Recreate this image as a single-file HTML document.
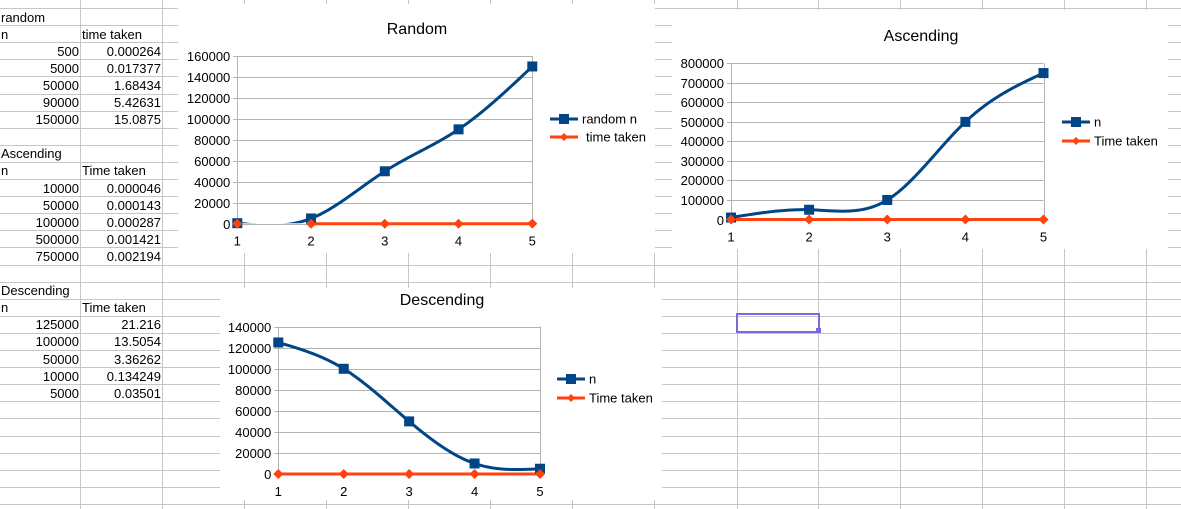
<!DOCTYPE html>
<html><head><meta charset="utf-8">
<style>
html,body{margin:0;padding:0;background:#fff;}
body{width:1181px;height:509px;position:relative;overflow:hidden;font-family:"Liberation Sans",Arial,sans-serif;}
#grid{position:absolute;left:0;top:0;}
.cell{position:absolute;font-size:13px;line-height:17px;height:17px;color:#000;white-space:nowrap;}
.r{text-align:right;}
svg text{font-family:"Liberation Sans",Arial,sans-serif;white-space:pre;}
</style></head>
<body>
<svg id="grid" width="1181" height="509"></svg>
<div id="cells"></div>
<svg id="charts" width="1181" height="509" style="position:absolute;left:0;top:0"></svg>
<div style="position:absolute;left:736px;top:313px;width:80px;height:16px;border:2px solid #7b68dd;box-sizing:content-box;"></div>
<div style="position:absolute;left:816px;top:328px;width:5px;height:5px;background:#7b68dd;"></div>
<script>
// ---- data ----
const xCats = [1,2,3,4,5];
const randomN = [500,5000,50000,90000,150000];
const randomT = [0.000264,0.017377,1.68434,5.42631,15.0875];
const ascN = [10000,50000,100000,500000,750000];
const ascT = [0.000046,0.000143,0.000287,0.001421,0.002194];
const descN = [125000,100000,50000,10000,5000];
const descT = [21.216,13.5054,3.36262,0.134249,0.03501];
const randomTicks = [0,20000,40000,60000,80000,100000,120000,140000,160000];
const ascTicks = [0,100000,200000,300000,400000,500000,600000,700000,800000];
const descTicks = [0,20000,40000,60000,80000,100000,120000,140000];

const NS='http://www.w3.org/2000/svg';
function mk(parent,tag,attrs){const e=document.createElementNS(NS,tag);for(const k in attrs)e.setAttribute(k,attrs[k]);parent.appendChild(e);return e;}

// ---- spreadsheet grid ----
const g=document.getElementById('grid');
const colX=[80,162,244,326,408,490,572,654,737,818,900,982,1064,1146];
const rowY=[];for(let k=0;k<30;k++)rowY.push(8+k*17.1);
rowY.forEach(y=>mk(g,'line',{x1:0,x2:1181,y1:Math.round(y)+0.5,y2:Math.round(y)+0.5,stroke:'#c6c6c6','stroke-width':1}));
colX.forEach(x=>mk(g,'line',{x1:x+0.5,x2:x+0.5,y1:0,y2:509,stroke:'#c6c6c6','stroke-width':1}));

// ---- cells ----
const cells=document.getElementById('cells');
function cell(row,col,text,right,name){
  const d=document.createElement('div');d.className='cell'+(right?' r':'');
  const top=8+row*17.1;
  d.style.top=(top+0.5)+'px';
  if(col===0){ if(right){d.style.left='0px';d.style.width='79px';} else d.style.left='1px'; }
  else { if(right){d.style.left='82px';d.style.width='79px';} else d.style.left='82px'; }
  d.textContent=text;
  
  
  cells.appendChild(d);
}
function table(startRow,title,hdr,ns,ts,pref){
  cell(startRow,0,title,false,pref+'-title-cell');
  cell(startRow+1,0,'n',false,pref+'-n-header');
  cell(startRow+1,1,hdr,false,pref+'-time-header');
  for(let i=0;i<ns.length;i++){
    cell(startRow+2+i,0,String(ns[i]),true,pref+'-n-'+(i+1));
    cell(startRow+2+i,1,String(ts[i]),true,pref+'-time-'+(i+1));
  }
}
table(0,'random','time taken',randomN,randomT,'random');
table(8,'Ascending','Time taken',ascN,ascT,'ascending');
table(16,'Descending','Time taken',descN,descT,'descending');

// ---- charts ----
const C=document.getElementById('charts');
const BLUE='#004586',ORANGE='#ff420e';
function spline(xs,ys){
  const n=xs.length,h=[],al=[],l=[1],mu=[0],z=[0],c=new Array(n).fill(0),b=[],d=[];
  for(let i=0;i<n-1;i++)h.push(xs[i+1]-xs[i]);
  for(let i=1;i<n-1;i++)al[i]=3/h[i]*(ys[i+1]-ys[i])-3/h[i-1]*(ys[i]-ys[i-1]);
  for(let i=1;i<n-1;i++){l[i]=2*(xs[i+1]-xs[i-1])-h[i-1]*mu[i-1];mu[i]=h[i]/l[i];z[i]=(al[i]-h[i-1]*z[i-1])/l[i];}
  for(let j=n-2;j>=0;j--){c[j]=z[j]-mu[j]*c[j+1];b[j]=(ys[j+1]-ys[j])/h[j]-h[j]*(c[j+1]+2*c[j])/3;d[j]=(c[j+1]-c[j])/(3*h[j]);}
  return t=>{let j=Math.min(Math.floor(t-xs[0]),n-2);if(j<0)j=0;const dx=t-xs[j];return ys[j]+b[j]*dx+c[j]*dx*dx+d[j]*dx*dx*dx;};
}
let clipId=0;
function chart(o){
  const grp=mk(C,'g',{});
  
  
  mk(grp,'rect',{x:o.box[0],y:o.box[1],width:o.box[2]-o.box[0],height:o.box[3]-o.box[1],fill:'#fff'});
  const L=o.plot[0],R=o.plot[1],T=o.plot[2],B=o.plot[3];
  const maxV=o.ticks[o.ticks.length-1];
  const xs=i=>L+(R-L)*(i-1)/(xCats.length-1);
  const ys=v=>B-(B-T)*v/maxV;
  const t=mk(grp,'text',{x:o.titleX,y:o.titleY,'font-size':16,'text-anchor':'middle',fill:'#000'});
  t.textContent=o.title;
  
  
  o.ticks.forEach(v=>{
    const y=Math.round(ys(v))+0.5;
    mk(grp,'line',{x1:L-4,x2:R,y1:y,y2:y,stroke:'#b3b3b3','stroke-width':1});
    const tx=mk(grp,'text',{x:L-7,y:y+4.5,'font-size':13,'text-anchor':'end',fill:'#000'});
    tx.textContent=String(v);
    
    
  });
  mk(grp,'line',{x1:Math.round(L)+0.5,x2:Math.round(L)+0.5,y1:T,y2:B+4,stroke:'#b3b3b3','stroke-width':1});
  mk(grp,'line',{x1:Math.round(R)+0.5,x2:Math.round(R)+0.5,y1:T,y2:B,stroke:'#b3b3b3','stroke-width':1});
  xCats.forEach(c=>{
    const tx=mk(grp,'text',{x:xs(c),y:B+22,'font-size':13,'text-anchor':'middle',fill:'#000'});
    tx.textContent=String(c);
    
    
  });
  clipId++;
  const cp=mk(grp,'clipPath',{id:'cp'+clipId});
  mk(cp,'rect',{x:L-8,y:T-8,width:R-L+16,height:B-T+8-0.5});
  // blue spline
  const f=spline(xCats,o.n);
  let dstr='';
  for(let s=1;s<=5.0001;s+=0.02){dstr+=(dstr?'L':'M')+xs(s).toFixed(2)+','+ys(f(s)).toFixed(2);}
  const p=mk(grp,'path',{d:dstr,fill:'none',stroke:BLUE,'stroke-width':3,'clip-path':'url(#cp'+clipId+')'});
  
  
  // orange
  const ft=spline(xCats,o.t);
  let ostr='';
  for(let s=o.orangeStart;s<=5.0001;s+=0.02){ostr+=(ostr?'L':'M')+xs(s).toFixed(2)+','+ys(ft(s)).toFixed(2);}
  const op=mk(grp,'path',{d:ostr,fill:'none',stroke:ORANGE,'stroke-width':3});
  
  
  xCats.forEach((c,i)=>{
    const cx=xs(c),cy=ys(o.n[i]);
    const m=mk(grp,'rect',{x:cx-5,y:cy-5,width:10,height:10,fill:BLUE});
    
    
  });
  xCats.forEach((c,i)=>{
    const cx=xs(c),cy=ys(o.t[i]);
    const m=mk(grp,'path',{d:`M${cx},${cy-5}L${cx+5},${cy}L${cx},${cy+5}L${cx-5},${cy}Z`,fill:ORANGE});
    
    
  });
  // legend
  const lg=o.legend;
  mk(grp,'line',{x1:lg[0],x2:lg[0]+28,y1:lg[1],y2:lg[1],stroke:BLUE,'stroke-width':3});
  mk(grp,'rect',{x:lg[0]+9,y:lg[1]-5,width:10,height:10,fill:BLUE});
  const l1=mk(grp,'text',{x:lg[0]+32,y:lg[1]+4.5,'font-size':13,fill:'#000'});
  l1.textContent=o.names[0];
  
  
  mk(grp,'line',{x1:lg[0],x2:lg[0]+28,y1:lg[2],y2:lg[2],stroke:ORANGE,'stroke-width':3});
  const c2=lg[0]+14;
  mk(grp,'path',{d:`M${c2},${lg[2]-4}L${c2+4},${lg[2]}L${c2},${lg[2]+4}L${c2-4},${lg[2]}Z`,fill:ORANGE});
  const l2=mk(grp,'text',{x:lg[0]+32+(o.names[1].startsWith(' ')?4:0),y:lg[2]+4.5,'font-size':13,fill:'#000'});
  l2.textContent=o.names[1].trim();
  
  
}
chart({name:'random-chart',box:[178,4,655,253],plot:[237.3,532.3,56,223.7],ticks:randomTicks,n:randomN,t:randomT,
  title:'Random',titleX:417,titleY:34,legend:[550,119,137],names:['random n',' time taken'],orangeStart:2});
chart({name:'ascending-chart',box:[672,10,1168,249],plot:[731,1043.5,63.3,219.5],ticks:ascTicks,n:ascN,t:ascT,
  title:'Ascending',titleX:921,titleY:41,legend:[1062,122,141],names:['n','Time taken'],orangeStart:1});
chart({name:'descending-chart',box:[220,288,662,500],plot:[278.3,540,326.7,474],ticks:descTicks,n:descN,t:descT,
  title:'Descending',titleX:442,titleY:305,legend:[557,379,398],names:['n','Time taken'],orangeStart:1});
</script>
</body></html>
